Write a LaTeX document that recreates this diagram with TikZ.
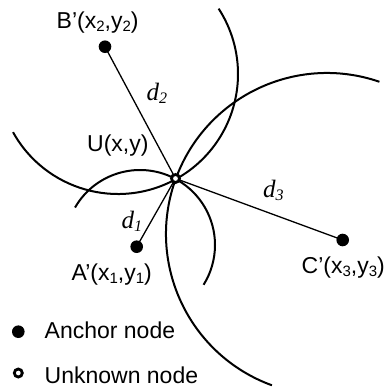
\documentclass[tikz,border=0pt]{standalone}
\usepackage{fontspec}
\setmainfont{Liberation Sans}
\newfontfamily\serifit{Liberation Serif}
\usetikzlibrary{backgrounds}
\newcommand{\sbs}[1]{\raisebox{-0.28ex}{\fontsize{15}{15}\selectfont #1}}
\newcommand{\dlab}[1]{{\serifit\itshape\fontsize{25}{26}\selectfont d\raisebox{-0.3ex}{\fontsize{16}{16}\selectfont #1}}}
\begin{document}
\begin{tikzpicture}[x=1pt,y=-1pt,
  arcline/.style={line width=2pt},
  link/.style={line width=1.3pt},
  anchordot/.style={circle,fill=black,inner sep=0pt,minimum size=12.6pt},
  unknowndot/.style={circle,draw=black,fill=white,line width=2.8pt,inner sep=0pt,minimum size=8pt},
  lab/.style={inner sep=0pt,anchor=base west,font=\fontsize{23}{25}\selectfont}]
\useasboundingbox (0,0) rectangle (391,389);
% nodes
\node[anchordot] (A) at (136.7,246.7) {};
\node[anchordot] (B) at (105,46.7) {};
\node[anchordot] (C) at (342.7,240) {};
\node[unknowndot] (U) at (175.5,178.5) {};
% circle centres
\coordinate (cA) at (140,245);
\coordinate (cB) at (118,74);
\coordinate (cC) at (327,234);
\begin{scope}[on background layer]
\draw[arcline] (cA) ++(-150:75) arc[start angle=-150,end angle=32,radius=75];
\draw[arcline] (cB) ++(151:120) arc[start angle=151,end angle=-33,radius=120];
\draw[arcline] (cC) ++(-71:161) arc[start angle=-71,end angle=-250,radius=161];
\draw[link] (A.center) -- (U.center);
\draw[link] (B.center) -- (U.center);
\draw[link] (C.center) -- (U.center);
\end{scope}
% labels
\node[lab] (Bl) at (56.5,28.3) {B’(x\sbs{2},y\sbs{2})};
\node[lab] (Ul) at (87,151.5) {U(x,y)};
\node[lab] (Al) at (71.5,280.5) {A’(x\sbs{1},y\sbs{1})};
\node[lab] (Cl) at (301.5,273.3) {C’(x\sbs{3},y\sbs{3})};
\node[lab] (d2) at (146.5,100) {\dlab{2}};
\node[lab] (d1) at (121.5,228) {\dlab{1}};
\node[lab] (d3) at (263,197) {\dlab{3}};
% legend
\node[anchordot] (legA) at (18.3,331.7) {};
\node[lab] (legAt) at (44.5,338) {Anchor node};
\node[unknowndot] (legU) at (18.3,373) {};
\node[lab] (legUt) at (44.5,383) {Unknown node};
\end{tikzpicture}
\end{document}
